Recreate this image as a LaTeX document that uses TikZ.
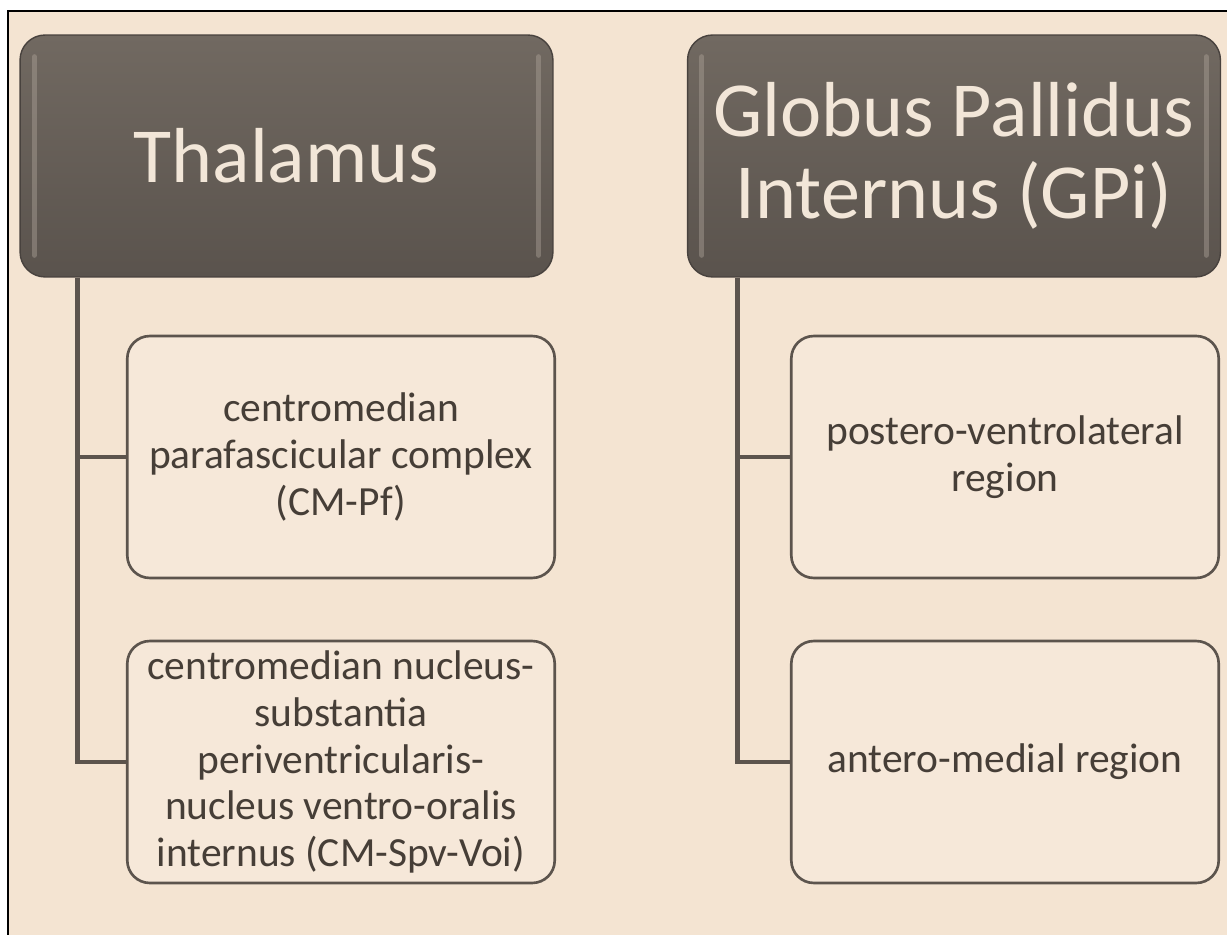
\documentclass[tikz,border=0pt]{standalone}
\usepackage{fontspec}
\setmainfont{Carlito}
\usepackage{tikz}
\definecolor{paper}{HTML}{F4E4D2}
\definecolor{headtop}{HTML}{716961}
\definecolor{headbot}{HTML}{5A534D}
\definecolor{headink}{HTML}{F2E6D8}
\definecolor{wire}{HTML}{5C544D}
\definecolor{subink}{HTML}{463E37}
\tikzset{
  head/.style={rounded corners=0.5cm,draw=headbot!80!black,line width=0.8pt,
    top color=headtop,bottom color=headbot,text=headink,
    minimum width=10.66cm,minimum height=4.84cm,align=center,
    font=\fontsize{44.4}{46.7}\selectfont},
  sub/.style={rounded corners=0.45cm,draw=wire,line width=1.5pt,fill=paper!85!white,
    text=subink,minimum width=8.55cm,minimum height=4.84cm,align=center,
    font=\fontsize{23.6}{26.5}\selectfont},
  conn/.style={draw=wire,line width=2.8pt},
  rim/.style={draw=headtop!55!headink,line width=3pt,line cap=round,opacity=0.45}
}
\newcommand{\headbox}[4][]{\node[head,#1] at (#2) (#3) {#4}}
\newcommand{\subbox}[4][]{\node[sub,#1] at (#2) (#3) {#4}}

\begin{document}
\begin{tikzpicture}[x=0.02cm,y=-0.02cm]
  \useasboundingbox (0,0) rectangle (1227,935);
  \fill[white] (0,0) rectangle (1227,935);
  \fill[paper] (8,11) rectangle (1227,935);
  \draw[black,line width=1.2pt] (8,935) -- (8,11) -- (1227,11);

  % top level
  \headbox{286.5,156}{thal}{Thalamus};
  \headbox{954,156}{gpi}{Globus Pallidus\\Internus (GPi)};
  \foreach \h in {thal,gpi} {
    \draw[rim] ([xshift=0.3cm,yshift=-0.45cm]\h.north west) -- ([xshift=0.3cm,yshift=0.45cm]\h.south west);
    \draw[rim] ([xshift=-0.3cm,yshift=-0.45cm]\h.north east) -- ([xshift=-0.3cm,yshift=0.45cm]\h.south east);
  }

  % second level
  \subbox{341,457}{cmpf}{centromedian\\parafascicular complex\\(CM-Pf)};
  \subbox{341,762}{cmspv}{centromedian nucleus-\\substantia\\periventricularis-\\nucleus ventro-oralis\\internus (CM-Spv-Voi)};
  \subbox{1005,457}{pvl}{postero-ventrolateral\\region};
  \subbox{1005,762}{amr}{antero-medial region};

  \coordinate (thalroot) at ([xshift=1.16cm]thal.south west);
  \coordinate (gpiroot)  at ([xshift=1.02cm]gpi.south west);
  \draw[conn]
        (thalroot) |- (cmpf.west)
        (thalroot) |- (cmspv.west)
        (gpiroot)  |- (pvl.west)
        (gpiroot)  |- (amr.west);
\end{tikzpicture}
\end{document}
